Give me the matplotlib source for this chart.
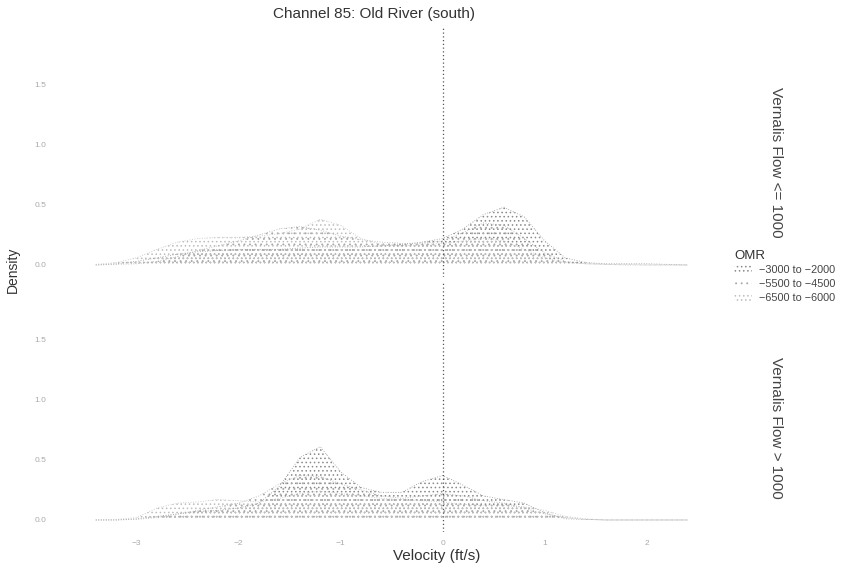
import numpy as np
import matplotlib
matplotlib.use("Agg")
import matplotlib.pyplot as plt
from matplotlib.patches import Patch

plt.rcParams['font.family'] = ['Liberation Sans', 'DejaVu Sans']
plt.rcParams['hatch.linewidth'] = 0.6

# ---------------- data ----------------
velocity = [-3.4, -3.2, -3.0, -2.8, -2.6, -2.4, -2.2, -2.0, -1.8, -1.6,
            -1.4, -1.2, -1.0, -0.8, -0.6, -0.4, -0.2, 0.0, 0.2, 0.4,
            0.6, 0.8, 1.0, 1.2, 1.4, 1.6, 1.8, 2.0, 2.2, 2.4]

groups = ["\u22123000 to \u22122000", "\u22125500 to \u22124500", "\u22126500 to \u22126000"]
panels = ["Vernalis Flow <= 1000", "Vernalis Flow > 1000"]

low_g1 = [0, 0.01, 0.03, 0.06, 0.09, 0.11, 0.12, 0.13, 0.13, 0.13,
          0.14, 0.15, 0.15, 0.15, 0.16, 0.17, 0.19, 0.22, 0.30, 0.42,
          0.48, 0.40, 0.20, 0.06, 0.02, 0.01, 0.01, 0.01, 0.005, 0]
low_g2 = [0, 0.005, 0.01, 0.03, 0.07, 0.12, 0.16, 0.20, 0.25, 0.30,
          0.32, 0.29, 0.24, 0.21, 0.19, 0.18, 0.18, 0.20, 0.27, 0.35,
          0.33, 0.22, 0.10, 0.03, 0.01, 0.005, 0, 0, 0, 0]
low_g3 = [0.005, 0.02, 0.06, 0.13, 0.19, 0.22, 0.23, 0.23, 0.24, 0.26,
          0.30, 0.38, 0.33, 0.22, 0.17, 0.16, 0.17, 0.18, 0.20, 0.22,
          0.20, 0.13, 0.06, 0.02, 0.01, 0.005, 0.005, 0, 0, 0]

high_g1 = [0, 0, 0.01, 0.03, 0.05, 0.07, 0.08, 0.10, 0.14, 0.28,
           0.52, 0.61, 0.40, 0.27, 0.23, 0.23, 0.32, 0.37, 0.29, 0.20,
           0.17, 0.14, 0.06, 0.01, 0.005, 0, 0, 0, 0, 0]
high_g2 = [0, 0, 0.005, 0.02, 0.05, 0.08, 0.11, 0.14, 0.20, 0.30,
           0.37, 0.36, 0.30, 0.25, 0.20, 0.18, 0.20, 0.22, 0.20, 0.16,
           0.14, 0.10, 0.05, 0.02, 0.005, 0, 0, 0, 0, 0]
high_g3 = [0, 0.005, 0.02, 0.10, 0.14, 0.15, 0.17, 0.16, 0.15, 0.18,
           0.22, 0.24, 0.22, 0.20, 0.18, 0.17, 0.16, 0.15, 0.13, 0.12,
           0.12, 0.11, 0.08, 0.03, 0.01, 0, 0, 0, 0, 0]

panel_data = [[low_g1, low_g2, low_g3], [high_g1, high_g2, high_g3]]

x_ticks = [-3, -2, -1, 0, 1, 2]
x_ticklabels = ["\u22123", "\u22122", "\u22121", "0", "1", "2"]
y_ticks = [0.0, 0.5, 1.0, 1.5]
y_ticklabels = ["0.0", "0.5", "1.0", "1.5"]

# ---------------- style ----------------
hatch_colors = ["#8a8a8a", "#a8a8a8", "#bdbdbd"]
hatches = ["....", "...", "...."]
line_colors = ["#9a9a9a", "#b0b0b0", "#c4c4c4"]

W, H = 843, 568
fig = plt.figure(figsize=(W / 100, H / 100), dpi=100)

left, right = 55 / W, 760 / W
panel_px = [(27, 277), (282, 532)]

axes = []
for (top, bot) in panel_px:
    ax = fig.add_axes([left, 1 - bot / H, right - left, (bot - top) / H])
    axes.append(ax)

for ax, data, label in zip(axes, panel_data, panels):
    for vals, hc, hp, lc in zip(data, hatch_colors, hatches, line_colors):
        ax.fill_between(velocity, vals, 0, facecolor="none", edgecolor=hc,
                        hatch=hp, linewidth=0)
        ax.plot(velocity, vals, color=lc, linewidth=0.6, linestyle=(0, (1, 2)))
    ax.axvline(0, color="#555555", linewidth=0.9, linestyle=(0, (1, 2)))
    ax.set_xlim(-3.80, 3.11)
    ax.set_ylim(-0.1, 1.98)
    for s in ax.spines.values():
        s.set_visible(False)
    ax.set_yticks(y_ticks)
    ax.set_yticklabels(y_ticklabels, fontsize=6, color="#aaaaaa")
    ax.tick_params(length=0, pad=6)

# strip labels
fig.text(776 / W, 1 - 162 / H, panels[0], rotation=-90, ha="center",
         va="center", fontsize=11, color="#444444")
fig.text(776 / W, 1 - 428 / H, panels[1], rotation=-90, ha="center",
         va="center", fontsize=11, color="#444444")

axes[0].set_xticks([])
axes[1].set_xticks(x_ticks)
axes[1].set_xticklabels(x_ticklabels, fontsize=6, color="#aaaaaa")

fig.text(374 / W, 1 - 14 / H, "Channel 85: Old River (south)", ha="center",
         va="center", fontsize=11, color="#333333")
fig.text(437 / W, 1 - 556 / H, "Velocity (ft/s)", ha="center", va="center",
         fontsize=11, color="#333333")
fig.text(13 / W, 1 - 270 / H, "Density", ha="center", va="center",
         rotation=90, fontsize=10, color="#333333")

handles = [Patch(facecolor="none", edgecolor=hc, hatch=hp, linewidth=0)
           for hc, hp in zip(hatch_colors, hatches)]
leg = fig.legend(handles, groups, title="OMR", loc="upper left",
                 bbox_to_anchor=(732 / W, 1 - 248 / H), frameon=False,
                 fontsize=7.8, title_fontsize=9.5, handlelength=1.6,
                 handleheight=0.8, labelspacing=0.35, handletextpad=0.7,
                 labelcolor="#444444", borderpad=0.2, borderaxespad=0)
leg.get_title().set_color("#333333")
leg._legend_box.align = "left"
leg._legend_box.sep = 2

fig.savefig("out.png", dpi=100, facecolor="white")
